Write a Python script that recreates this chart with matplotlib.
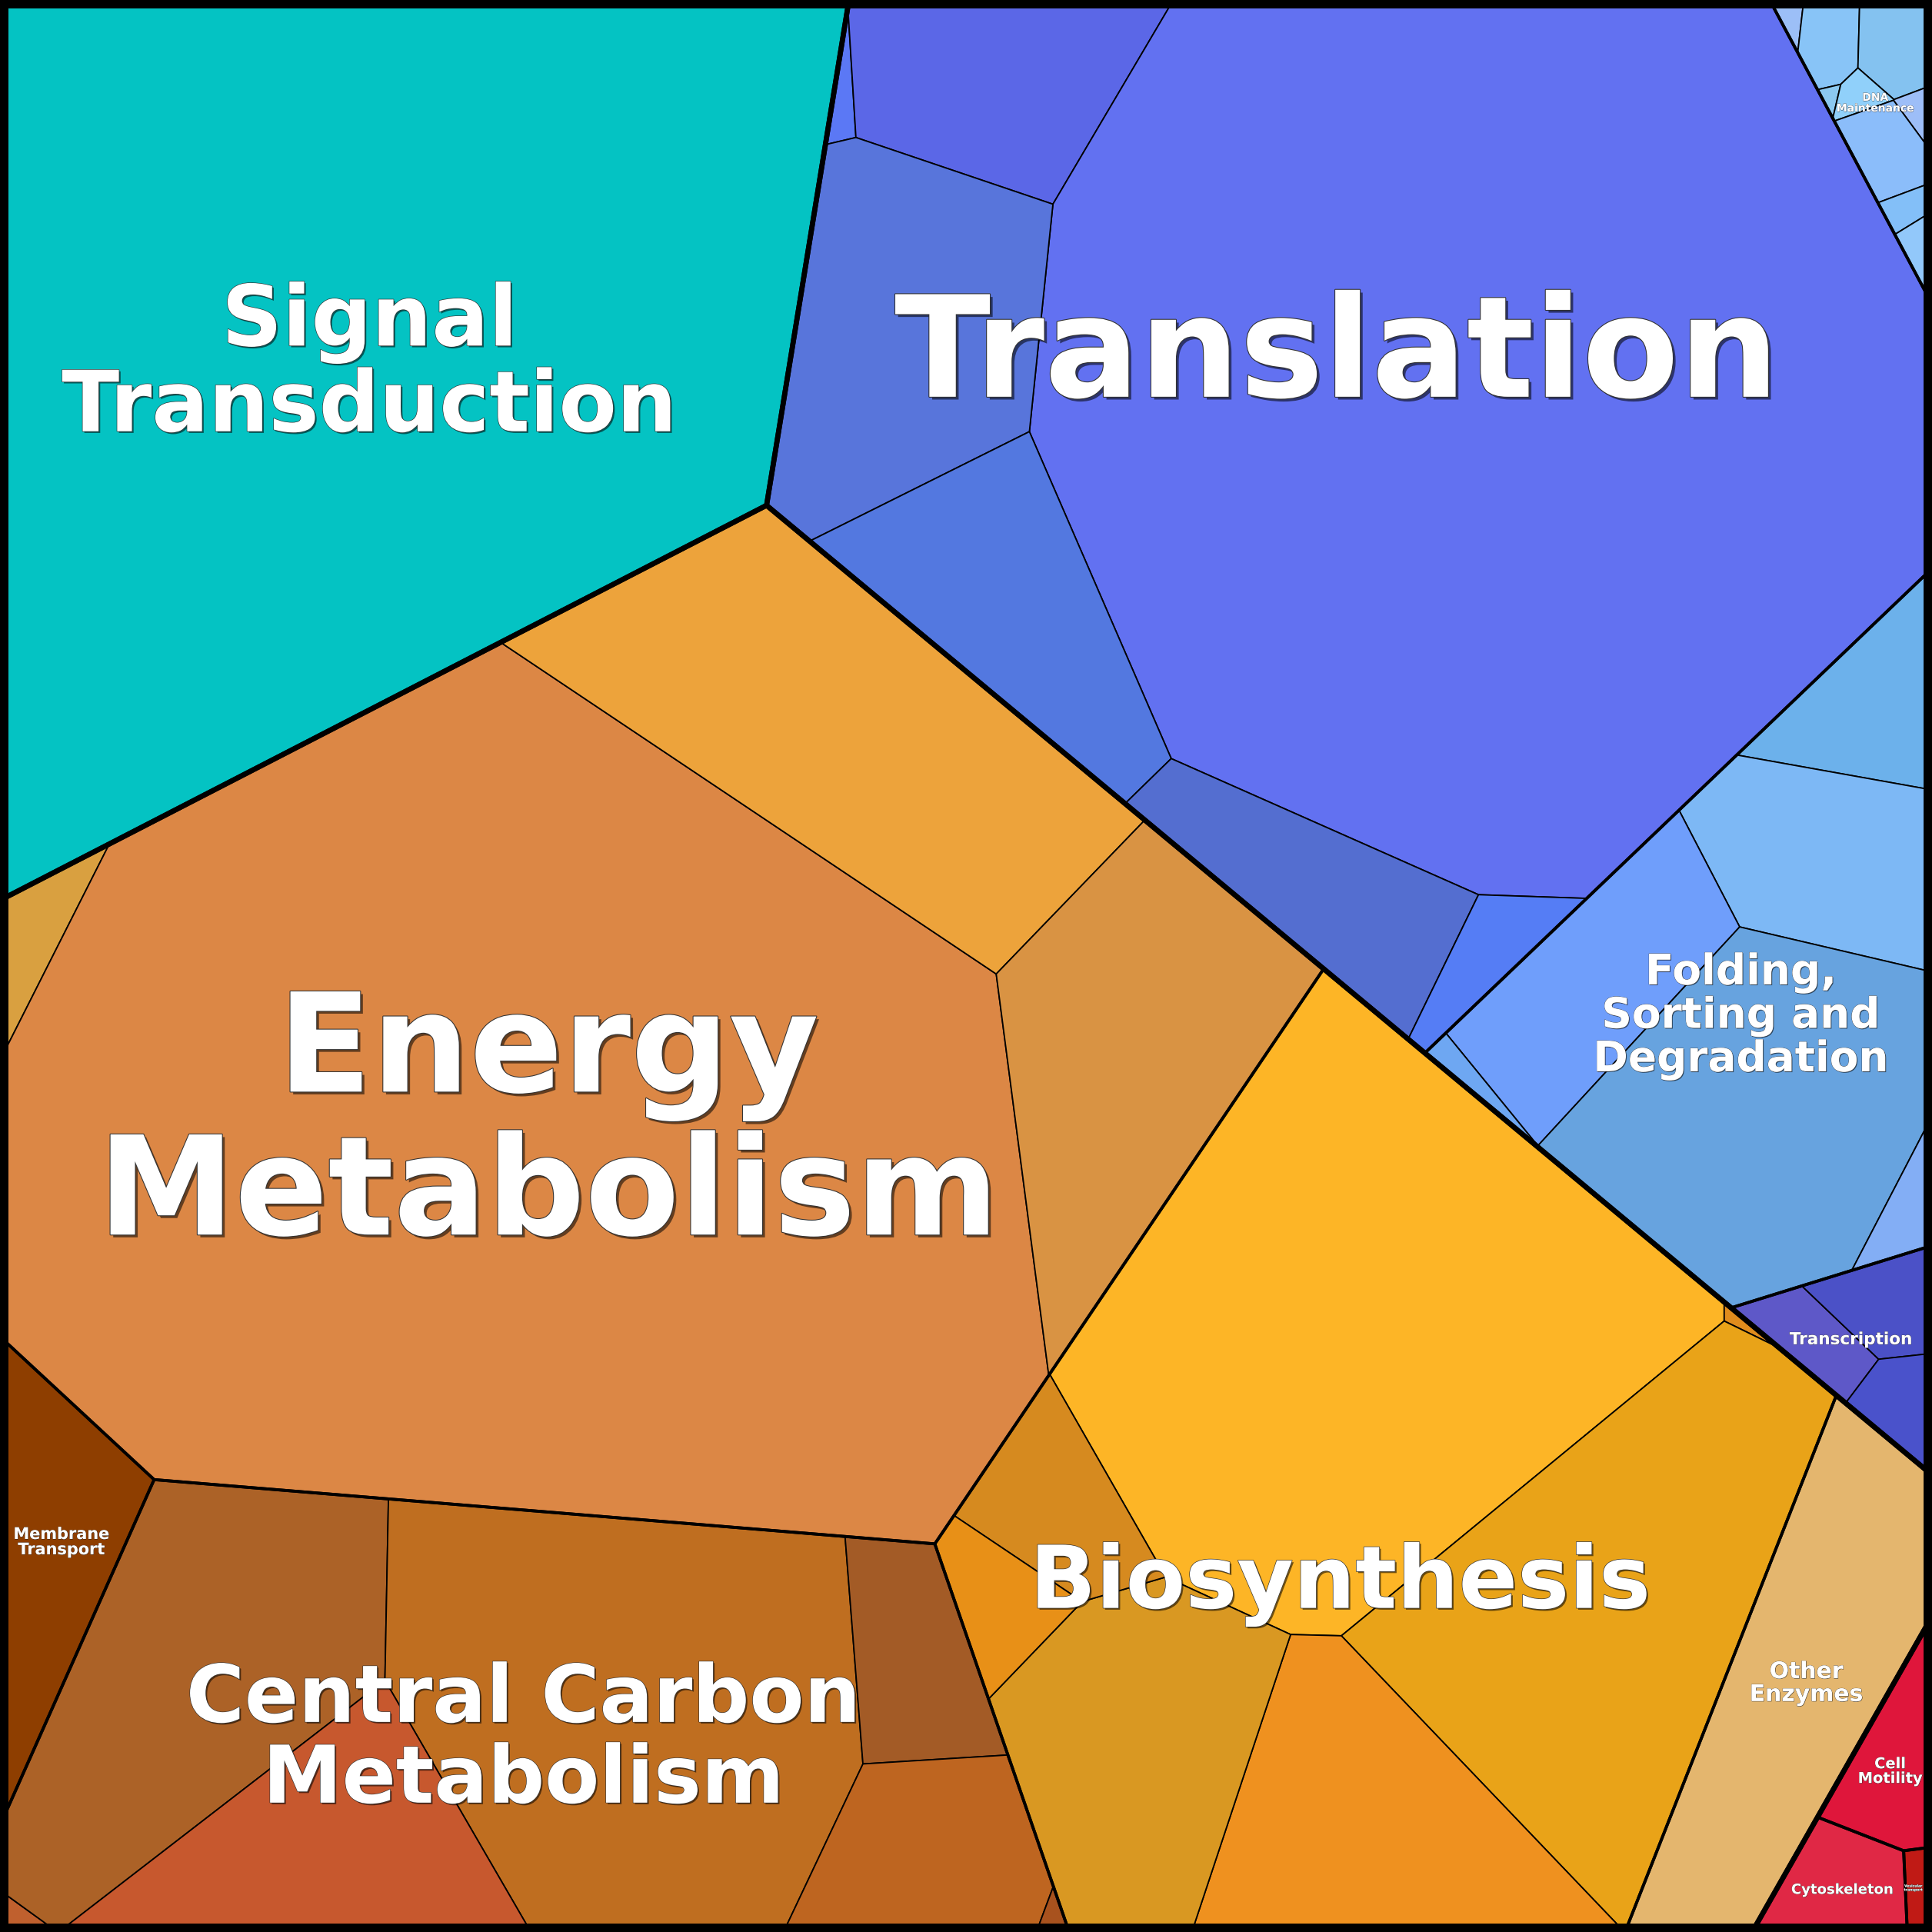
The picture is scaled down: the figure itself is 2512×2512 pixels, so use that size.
import numpy as np
import matplotlib
matplotlib.use("Agg")
import matplotlib.pyplot as plt
from matplotlib.patches import Polygon, Rectangle
import matplotlib.patheffects as pe

# ---------------------------------------------------------------- data
supergroup_names = ["Environmental Information Processing",
                    "Genetic Information Processing",
                    "Metabolism", "Cellular Processes"]
group_names = ["Signal Transduction", "Translation", "DNA Maintenance",
               "Folding, Sorting and Degradation", "Transcription",
               "Energy Metabolism", "Biosynthesis", "Central Carbon Metabolism",
               "Membrane Transport", "Other Enzymes", "Cell Motility",
               "Cytoskeleton", "Vesicular transport"]
supergroup_members = [[0], [1, 2, 3, 4], [5, 6, 7, 8, 9], [10, 11, 12]]

signal_values = [1496.0]
translation_values = [5.4, 124.4, 1722.2, 213.4, 152.0, 103.7, 27.7]
dna_values = [2.4, 12.4, 17.3, 3.5, 1.0, 4.4, 16.2, 4.2, 4.6]
folding_values = [57.8, 105.0, 111.8, 5.8, 258.6, 13.9]
transcription_values = [20.1, 24.6, 16.9]
energy_values = [23.4, 1888.5, 349.0, 242.4]
biosynthesis_values = [655.0, 1.4, 374.0, 191.7, 191.6, 61.7, 33.5]
central_carbon_values = [3.2, 276.3, 455.5, 68.9, 158.9, 97.2, 2.0]
membrane_values = [100.7]
other_values = [202.7]
motility_values = [37.0]
cytoskeleton_values = [33.0]
vesicular_values = [5.9]

group_values = [signal_values, translation_values, dna_values, folding_values,
                transcription_values, energy_values, biosynthesis_values,
                central_carbon_values, membrane_values, other_values,
                motility_values, cytoskeleton_values, vesicular_values]

label_text = ["Signal\nTransduction", "Translation", "DNA\nMaintenance",
              "Folding,\nSorting and\nDegradation", "Transcription",
              "Energy\nMetabolism", "Biosynthesis", "Central Carbon\nMetabolism",
              "Membrane\nTransport", "Other\nEnzymes", "Cell\nMotility",
              "Cytoskeleton", "Vesicular\ntransport"]

# ---------------------------------------------------------------- styles
group_colors = [
    ["#04C3C3"],
    ["#5B78F5", "#5B67E7", "#6271F1", "#5875DB", "#5378E0", "#546ED0", "#557DF5"],
    ["#9CBFF7", "#88C4F7", "#84C2F0", "#9DBEF8", "#8CC8F0", "#90D0FA", "#8BBDFA", "#83BFF8", "#92C8FA"],
    ["#6CB1EB", "#7DB8F5", "#6F9EFB", "#6EA7F2", "#67A3DF", "#83AEF5"],
    ["#5E58C8", "#4B51C7", "#4A52CB"],
    ["#D9A040", "#DC8745", "#EDA33B", "#D99343"],
    ["#FDB526", "#E08C1D", "#E9A318", "#EF911F", "#D99822", "#D68A1F", "#E89017"],
    ["#C0602E", "#AC6227", "#BF6E20", "#A35B26", "#C7582E", "#BE6520", "#A8521E"],
    ["#8E3E00"], ["#E4B66E"], ["#DF163B"], ["#E02845"], ["#C01A15"],
]

# layout space: 1568 x 1568 units, y downwards; generator sites of the power diagrams
S = 1568.0
supergroup_sites = [(277.7, 300.0), (1202.8, 450.9), (679.5, 1079.9), (1461.6, 1525.4)]
group_sites = [(295, 287), (1063, 408.8), (1539.3, 154.5), (1422.3, 784.8), (1520, 1100),
               (489.2, 823), (1081.6, 1223.6), (437.9, 1446.4), (65, 1280.2), (1460, 1372.6),
               (1540, 1432), (1500, 1534.4), (1553.1, 1532)]
child_sites = [
    [(295, 287)],
    [(683.7, 80.4), (795.1, 73.5), (1214.8, 321.1), (728.3, 270.8), (835.4, 485.7), (1046.1, 701.9), (1199.3, 776.5)],
    [(1453, 12), (1482, 32), (1537, 35), (1556, 91), (1479, 74), (1506, 76), (1530, 122), (1547, 169), (1557, 203)],
    [(1506.7, 570), (1483, 702.5), (1305, 795), (1196.5, 883.5), (1433.6, 913.6), (1546, 972)],
    [(1486.7, 1099.5), (1528.1, 1056.1), (1537, 1137.4)],
    [(47, 720), (439.1, 918.1), (657.3, 592), (928.7, 854)],
    [(1113.3, 1075.4), (1409, 1075.4), (1298.8, 1301), (1103, 1488.2), (947.1, 1436.4), (880.2, 1208.8), (813.6, 1308)],
    [(16, 1545), (150, 1360), (510, 1367), (739, 1349), (265, 1509), (747, 1479), (841, 1514)],
    [(65, 1280)], [(1460, 1372)], [(1540, 1432)], [(1500, 1534)], [(1553, 1532)],
]
# groups whose child sites are centroid goals rather than fixed generators
centroid_goal_groups = {2}

label_pos = [(300, 350), (1085, 322), (1522, 90.5), (1413, 869.5), (1502, 1091),
             (445, 1002), (1088, 1305), (425, 1463), (50, 1261.5), (1466, 1380.6),
             (1534, 1447), (1495, 1537), (1553, 1534.6)]
label_size = [31.6, 52.7, 4, 15.8, 6.2, 51.5, 32.5, 29.8, 6, 8.6, 5.6, 5.2, 1.3]
label_spacing = [1.04, 1.0, 1.0, 1.06, 1.0, 1.08, 1.0, 1.05, 1.0, 1.03, 1.0, 1.0, 1.0]

LW_CELL, LW_GROUP, LW_SUPER, LW_FRAME = 0.52, 1.1, 1.9, 6.3


# ---------------------------------------------------------------- power diagram
def clip(poly, labs, a, b, c, newlab):
    out, olab = [], []
    n = len(poly)
    for i in range(n):
        p = poly[i]
        q = poly[(i + 1) % n]
        l = labs[i]
        fp = a * p[0] + b * p[1] - c
        fq = a * q[0] + b * q[1] - c
        pin = fp <= 0
        qin = fq <= 0
        if pin:
            out.append(p)
            olab.append(l)
            if not qin:
                t = fp / (fp - fq)
                out.append((p[0] + t * (q[0] - p[0]), p[1] + t * (q[1] - p[1])))
                olab.append(newlab)
        elif qin:
            t = fp / (fp - fq)
            out.append((p[0] + t * (q[0] - p[0]), p[1] + t * (q[1] - p[1])))
            olab.append(l)
    return out, olab


def power_cells(sites, w, region):
    n = len(sites)
    cells, labels = [], []
    for i in range(n):
        poly = list(region)
        labs = [-1] * len(poly)
        xi, yi = sites[i]
        pi = xi * xi + yi * yi - w[i]
        for j in range(n):
            if j == i:
                continue
            xj, yj = sites[j]
            a = 2 * (xj - xi)
            b = 2 * (yj - yi)
            c = (xj * xj + yj * yj - w[j]) - pi
            poly, labs = clip(poly, labs, a, b, c, j)
            if len(poly) < 3:
                poly, labs = [], []
                break
        cells.append(poly)
        labels.append(labs)
    return cells, labels


def area_centroid(poly):
    if len(poly) < 3:
        return 0.0, None
    P = np.asarray(poly, float)
    x, y = P[:, 0], P[:, 1]
    x1, y1 = np.roll(x, -1), np.roll(y, -1)
    cr = x * y1 - x1 * y
    A = cr.sum() / 2.0
    if abs(A) < 1e-12:
        return 0.0, P.mean(0)
    cx = ((x + x1) * cr).sum() / (6 * A)
    cy = ((y + y1) * cr).sum() / (6 * A)
    return abs(A), np.array([cx, cy])


def areas_of(cells):
    return np.array([area_centroid(c)[0] for c in cells])


def jacobian(sites, cells, labels):
    n = len(sites)
    J = np.zeros((n, n))
    for i in range(n):
        poly = cells[i]
        m = len(poly)
        for k in range(m):
            j = labels[i][k]
            if j < 0:
                continue
            p = poly[k]
            q = poly[(k + 1) % m]
            L = np.hypot(q[0] - p[0], q[1] - p[1])
            d = np.hypot(sites[i][0] - sites[j][0], sites[i][1] - sites[j][1])
            v = L / (2 * d)
            J[i, j] -= v
            J[i, i] += v
    return J


def solve_weights(sites, w, region, T, iters=150):
    n = len(sites)
    w = np.array(w, float)
    cells, labels = power_cells(sites, w, region)
    if n == 1:
        return w, cells
    A = areas_of(cells)
    k = 0
    while A.min() <= 1e-9 and k < 80:
        for i in np.where(A <= 1e-9)[0]:
            w[i] += T.mean() * 0.3 * (1.4 ** k)
        cells, labels = power_cells(sites, w, region)
        A = areas_of(cells)
        k += 1
    for _ in range(iters):
        err = T - A
        if np.all(np.abs(err) <= np.maximum(1e-3 * T, 0.3)):
            break
        J = jacobian(sites, cells, labels)
        dw = np.linalg.lstsq(J, err, rcond=None)[0]
        e0 = np.linalg.norm(err)
        eps0 = 0.5 * min(T.min(), A.min())
        alpha = 1.0
        for _ls in range(16):
            w2 = w + alpha * dw
            c2, l2 = power_cells(sites, w2, region)
            A2 = areas_of(c2)
            if A2.min() >= eps0 and np.linalg.norm(T - A2) <= (1 - alpha / 2) * e0:
                break
            alpha /= 2
        w, cells, labels, A = w2, c2, l2, A2
    return w, cells


def inside(pt, region):
    n = len(region)
    sgn = 0
    for i in range(n):
        p = region[i]
        q = region[(i + 1) % n]
        cr = (q[0] - p[0]) * (pt[1] - p[1]) - (q[1] - p[1]) * (pt[0] - p[0])
        if abs(cr) < 1e-9:
            continue
        s = 1 if cr > 0 else -1
        if sgn == 0:
            sgn = s
        elif s != sgn:
            return False
    return True


def push_inside(pts, region):
    _, c = area_centroid(region)
    out = []
    for p in pts:
        p = np.array(p, float)
        k = 0
        while not inside(p, region) and k < 60:
            p = c + 0.93 * (p - c)
            k += 1
        out.append(p)
    return np.array(out)


def voronoi_layout(region, sites, values, centroid_goal=False, n_outer=10):
    values = np.asarray(values, float)
    n = len(values)
    total, _ = area_centroid(region)
    T = values / values.sum() * total
    if n == 1:
        return [list(region)]
    sites = np.array(sites, float)
    w = np.zeros(n)
    if not centroid_goal:
        w, cells = solve_weights(sites, w, region, T)
        return cells
    goal = sites.copy()
    sites = push_inside(goal, region)
    for _ in range(n_outer):
        w, cells = solve_weights(sites, w, region, T)
        cents = np.array([area_centroid(c)[1] if len(c) >= 3 else sites[i]
                          for i, c in enumerate(cells)])
        sites = push_inside(sites + 0.7 * (goal - cents), region)
    w, cells = solve_weights(sites, w, region, T)
    return cells


# ---------------------------------------------------------------- layout
square = [(0.0, 0.0), (S, 0.0), (S, S), (0.0, S)]
super_totals = [sum(sum(group_values[g]) for g in members) for members in supergroup_members]
super_cells = voronoi_layout(square, supergroup_sites, super_totals)

group_cells = [None] * len(group_names)
for s, members in enumerate(supergroup_members):
    cells = voronoi_layout(super_cells[s], [group_sites[g] for g in members],
                           [sum(group_values[g]) for g in members])
    for g, c in zip(members, cells):
        group_cells[g] = c

child_cells = []
for g, cell in enumerate(group_cells):
    child_cells.append(voronoi_layout(cell, child_sites[g], group_values[g],
                                      centroid_goal=(g in centroid_goal_groups)))

# ---------------------------------------------------------------- draw
fig = plt.figure(figsize=(2512 / 250, 2512 / 250), dpi=250)
ax = fig.add_axes([0, 0, 1, 1])
ax.set_xlim(0, S)
ax.set_ylim(S, 0)
ax.axis("off")

for g in range(len(group_cells)):
    for k, c in enumerate(child_cells[g]):
        if len(c) < 3:
            continue
        ax.add_patch(Polygon(c, closed=True, facecolor=group_colors[g][k],
                             edgecolor="black", linewidth=LW_CELL, joinstyle="round"))
for c in group_cells:
    if len(c) >= 3:
        ax.add_patch(Polygon(c, closed=True, fill=False, edgecolor="black",
                             linewidth=LW_GROUP, joinstyle="round"))
for c in super_cells:
    if len(c) >= 3:
        ax.add_patch(Polygon(c, closed=True, fill=False, edgecolor="black",
                             linewidth=LW_SUPER, joinstyle="round"))

ax.add_patch(Rectangle((0, 0), S, S, fill=False, edgecolor="black",
                       linewidth=LW_FRAME, clip_on=False, joinstyle="round"))

for g in range(len(group_names)):
    fs = label_size[g]
    off = max(0.12, fs * 0.02)
    ax.text(label_pos[g][0], label_pos[g][1], label_text[g], ha="center",
            va="baseline", multialignment="center", fontsize=fs,
            fontweight="bold", color="white", family="DejaVu Sans",
            linespacing=label_spacing[g],
            path_effects=[pe.SimplePatchShadow(offset=(off, -off), shadow_rgbFace="black", alpha=0.55),
                          pe.Stroke(linewidth=max(0.15, fs * 0.012), foreground="#333333"),
                          pe.Normal()])

fig.savefig("out.png", dpi=250)
